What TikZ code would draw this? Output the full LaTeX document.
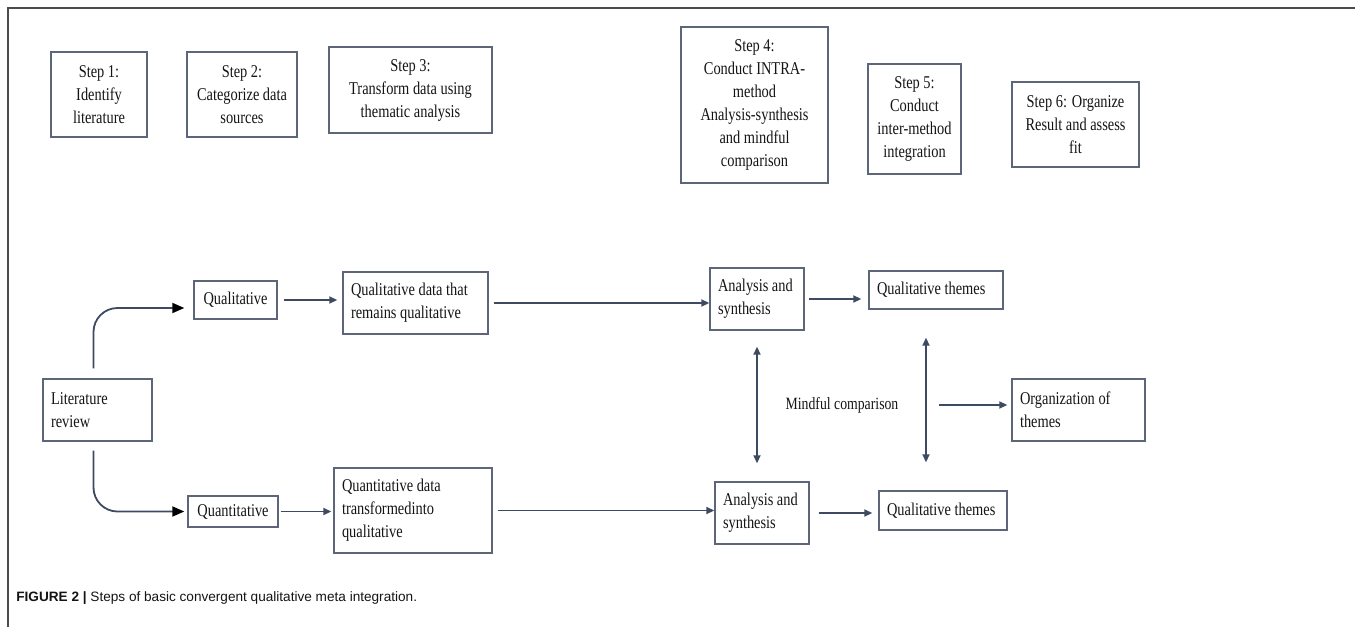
\documentclass[tikz,border=0pt]{standalone}
\usepackage{fontspec}
\setmainfont{Liberation Serif}[FakeStretch=0.8]
\newfontfamily\capfont{Liberation Sans}
\usetikzlibrary{arrows.meta}

\begin{document}
\begin{tikzpicture}[x=0.5pt,y=-0.5pt,
  box/.style={draw=mybox, line width=0.7pt, inner sep=0pt, align=center,
    text=mytext, font=\fontsize{9}{11.5}\selectfont},
  lbox/.style={box, align=flush left, inner xsep=4pt},
  arr/.style={draw=myarrow, line width=0.9pt, -{Triangle[length=4pt,width=3.5pt]}},
  twoarr/.style={draw=myarrow, line width=0.9pt,
    {Triangle[length=4pt,width=3.5pt]}-{Triangle[length=4pt,width=3.5pt]}},
  bigarr/.style={draw=myarrow, line width=0.9pt, rounded corners=12pt,
    -{Triangle[length=6pt,width=5pt,color=black]}}]

\definecolor{mybox}{rgb}{0.36,0.40,0.47}
\definecolor{myarrow}{rgb}{0.24,0.29,0.38}
\definecolor{myframe}{gray}{0.3}
\definecolor{mytext}{gray}{0.08}

\useasboundingbox (0,0) rectangle (1355,627);
\draw[myframe, line width=0.8pt] (8,627) -- (8,8) -- (1355,8);

% steps
\node[box, minimum width=48pt, minimum height=42.5pt] (step1) at (99,94.5) {Step 1:\\Identify\\literature};
\node[box, minimum width=55pt, minimum height=42.5pt] (step2) at (242,94.5) {Step 2:\\Categorize data\\sources};
\node[box, minimum width=81.5pt, minimum height=43pt] (step3) at (410.5,90) {Step 3:\\Transform data using\\thematic analysis};
\node[box, minimum width=73.5pt, minimum height=78pt] (step4) at (754.5,105) {Step 4:\\Conduct INTRA-\\method\\Analysis-synthesis\\and mindful\\comparison};
\node[box, minimum width=46.5pt, minimum height=55pt] (step5) at (914.5,119) {Step 5:\\Conduct\\inter-method\\integration};
\node[box, minimum width=63.5pt, minimum height=42.5pt] (step6) at (1075.5,124.5) {Step 6: Organize\\Result and assess\\fit};

% flow
\node[lbox, text width=46.5pt, minimum height=31pt] (litrev) at (97.5,410) {Literature\\review};
\node[box, minimum width=41.5pt, minimum height=19pt] (qual) at (235.5,300) {Qualitative};
\node[lbox, text width=64.5pt, minimum height=31pt] (qualdata) at (415.5,303) {Qualitative data that\\remains qualitative};
\node[box, minimum width=45pt, minimum height=15.5pt] (quant) at (233,511.5) {Quantitative};
\node[lbox, text width=71pt, minimum height=42.5pt] (quantdata) at (413,510.5) {Quantitative data\\transformedinto\\qualitative};
\node[lbox, text width=39pt, minimum height=31pt] (anaqual) at (757,299) {Analysis and\\synthesis};
\node[lbox, text width=39pt, minimum height=31pt] (anaquant) at (762,513) {Analysis and\\synthesis};
\node[lbox, text width=59pt, minimum height=19pt] (themqual) at (936,290) {Qualitative themes};
\node[lbox, text width=56pt, minimum height=19.5pt] (themquant) at (943,510.5) {Qualitative themes};
\node[lbox, text width=58.5pt, minimum height=31pt] (organize) at (1078.5,410) {Organization of\\themes};
\node[text=mytext, inner sep=0pt, font=\fontsize{8.6}{10}\selectfont] (mindful) at (842,405) {Mindful comparison};

\draw[bigarr, shorten <=5pt, shorten >=4.5pt] ([xshift=-2pt]litrev.north) |- ([yshift=-4pt]qual.west);
\draw[bigarr, shorten <=4.5pt, shorten >=1.5pt] ([xshift=-2pt]litrev.south) |- (quant.west);
\draw[arr, shorten <=3pt, shorten >=2.5pt] (qual.east) -- (qual.east -| qualdata.west);
\draw[arr, shorten <=2.5pt] (qualdata.east) -- (qualdata.east -| anaqual.west);
\draw[arr, shorten <=2pt, shorten >=3.5pt] (anaqual.east) -- (anaqual.east -| themqual.west);
\draw[arr, shorten <=1pt, shorten >=1pt] (quant.east) -- (quant.east -| quantdata.west);
\draw[arr, shorten <=2.5pt] (quantdata.east) -- (quantdata.east -| anaquant.west);
\draw[arr, shorten <=4.5pt, shorten >=3pt] (anaquant.east) -- (anaquant.east -| themquant.west);
\draw[twoarr, shorten <=8pt, shorten >=9pt] (anaqual.south) -- (anaqual.south |- anaquant.north);
\coordinate (tq) at ([xshift=-5pt]themqual.south);
\draw[twoarr, shorten <=14pt, shorten >=14pt] (tq) -- (tq |- themquant.north);
\draw[arr, shorten <=20pt, shorten >=2pt] (mindful.east) -- (mindful.east -| organize.west);

% caption
\node[anchor=west, inner sep=0pt, text=mytext, font=\capfont\fontsize{6.8}{8}\selectfont] (caption) at (16,598)
  {\textbf{FIGURE 2 |} Steps of basic convergent qualitative meta integration.};
\end{tikzpicture}
\end{document}
